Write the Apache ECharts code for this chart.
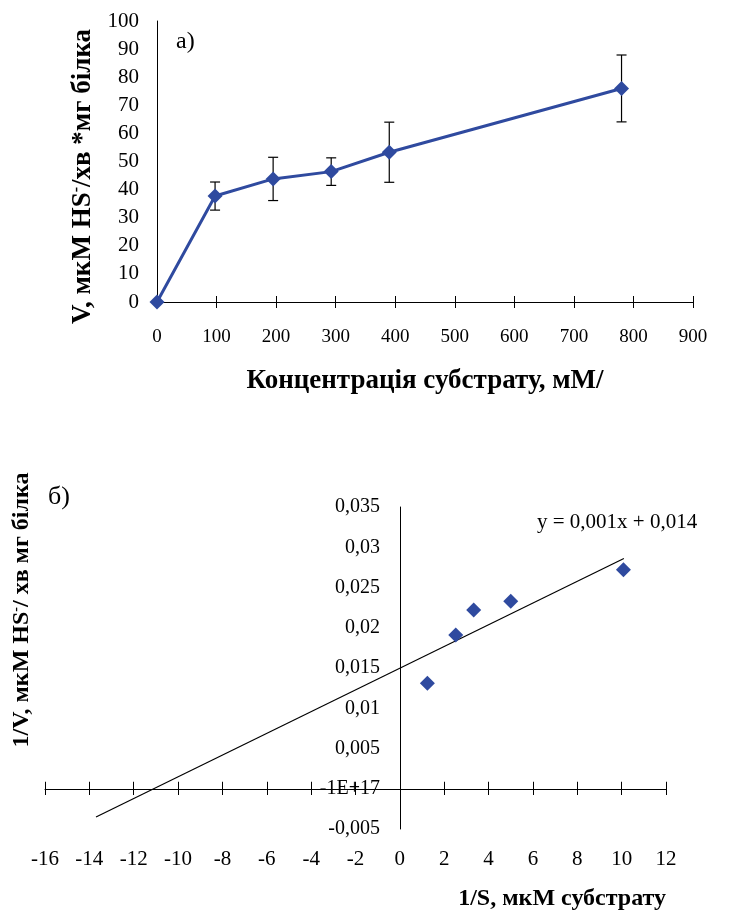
<!DOCTYPE html>
<html>
<head>
<meta charset="utf-8">
<script src="https://cdn.jsdelivr.net/npm/echarts@6/dist/echarts.min.js"></script>
<style>
  html, body { margin: 0; padding: 0; background: #fff; }
  #chart { width: 729px; height: 914px; }
</style>
</head>
<body>
<div id="chart"></div>
<script>
// а) швидкість від концентрації субстрату
const concentration = [0, 97.5, 195, 292.5, 390, 780];
const velocity = [0, 37.7, 43.8, 46.4, 53.3, 76.0];
const velocityErr = [0, 5.0, 7.7, 4.9, 10.7, 11.9];

// б) подвійні обернені координати (Лайнуівер-Берк)
const invS = [1.24, 2.52, 3.33, 5.0, 10.08];
const invV = [0.0131, 0.0191, 0.0222, 0.0233, 0.0272];
const trendX = [-13.7, 10.1];
const trendY = [-0.0035, 0.0286];
const yTickLabelsB = ['-0,005', '-1E+17', '0,005', '0,01', '0,015', '0,02', '0,025', '0,03', '0,035'];

const BLUE = '#2F4A9F';
const SERIF = '"Liberation Serif", "DejaVu Serif", serif';

const chart = echarts.init(document.getElementById('chart'));

const errData = concentration.map((x, i) => [x, velocity[i] - velocityErr[i], velocity[i] + velocityErr[i]]);

const option = {
  animation: false,
  backgroundColor: '#fff',
  grid: [
    { left: 157, right: 36, top: 21, bottom: 612, containLabel: false, outerBoundsMode: 'none' },
    { left: 45, right: 63, top: 507, bottom: 85, containLabel: false, outerBoundsMode: 'none' }
  ],
  xAxis: [
    {
      gridIndex: 0, type: 'value', min: 0, max: 900, interval: 100,
      axisLine: { show: true, lineStyle: { color: '#000', width: 1 } },
      axisTick: { show: true, inside: true, length: 6, lineStyle: { color: '#000' } },
      axisLabel: { show: false },
      splitLine: { show: false }
    },
    {
      gridIndex: 0, type: 'value', min: 0, max: 900, interval: 100, position: 'bottom',
      axisLine: { show: false, onZero: false },
      axisTick: { show: true, length: 6, lineStyle: { color: '#000' } },
      axisLabel: { margin: 26, color: '#000', fontSize: 19, fontFamily: SERIF },
      splitLine: { show: false },
      name: 'Концентрація субстрату, мМ/',
      nameLocation: 'middle', nameGap: 66,
      nameTextStyle: { color: '#000', fontSize: 27, fontWeight: 'bold', fontFamily: SERIF }
    },
    {
      gridIndex: 1, type: 'value', min: -16, max: 12, interval: 2,
      axisLine: { show: true, onZero: true, lineStyle: { color: '#000', width: 1 } },
      axisTick: { show: true, inside: true, length: 7, lineStyle: { color: '#000' } },
      axisLabel: { show: false },
      splitLine: { show: false }
    },
    {
      gridIndex: 1, type: 'value', min: -16, max: 12, interval: 2, position: 'bottom', offset: -41,
      axisLine: { show: false, onZero: false },
      axisTick: { show: true, length: 7, lineStyle: { color: '#000' } },
      axisLabel: { margin: 61, color: '#000', fontSize: 21, fontFamily: SERIF },
      splitLine: { show: false },
      name: '1/S, мкМ субстрату',
      nameLocation: 'end', nameGap: 0,
      nameTextStyle: {
        color: '#000', fontSize: 24, fontWeight: 'bold', fontFamily: SERIF,
        align: 'right', verticalAlign: 'top', padding: [99, 0, 0, 0]
      }
    }
  ],
  yAxis: [
    {
      gridIndex: 0, type: 'value', min: 0, max: 100, interval: 10,
      axisLine: { show: true, lineStyle: { color: '#000', width: 1 } },
      axisTick: { show: false },
      axisLabel: { margin: 18, color: '#000', fontSize: 21, fontFamily: SERIF },
      splitLine: { show: false },
      name: 'V, мкМ HS{sup|-}/хв *мг білка',
      nameLocation: 'middle', nameGap: 54, nameRotate: 90,
      nameTextStyle: {
        color: '#000', fontSize: 27, fontWeight: 'bold', fontFamily: SERIF,
        padding: [0, 30, 0, 0],
        rich: { sup: { fontSize: 16, fontWeight: 'bold', fontFamily: SERIF, color: '#000', verticalAlign: 'top', padding: [0, 0, 12, 0] } }
      }
    },
    {
      gridIndex: 1, type: 'value', min: -0.005, max: 0.035, interval: 0.005,
      offset: -355,
      axisLine: { show: true, onZero: false, lineStyle: { color: '#000', width: 1 } },
      axisTick: { show: false },
      axisLabel: {
        margin: 20, color: '#000', fontSize: 20, fontFamily: SERIF,
        formatter: (v, i) => yTickLabelsB[i]
      },
      splitLine: { show: false },
      name: '1/V, мкМ HS{sup|-}/ хв мг білка',
      nameLocation: 'middle', nameGap: 366, nameRotate: 90,
      nameTextStyle: {
        color: '#000', fontSize: 24, fontWeight: 'bold', fontFamily: SERIF,
        padding: [0, 0, 0, 116],
        rich: { sup: { fontSize: 14, fontWeight: 'bold', fontFamily: SERIF, color: '#000', verticalAlign: 'top', padding: [0, 0, 11, 0] } }
      }
    }
  ],
  series: [
    {
      type: 'custom',
      xAxisIndex: 0, yAxisIndex: 0,
      z: 1,
      data: errData,
      renderItem: (params, api) => {
        const x = api.value(0), lo = api.value(1), hi = api.value(2);
        if (hi === lo) return null;
        const top = api.coord([x, hi]);
        const bot = api.coord([x, lo]);
        const w = 5;
        const st = { stroke: '#000', lineWidth: 1.2 };
        return {
          type: 'group',
          children: [
            { type: 'line', shape: { x1: top[0], y1: top[1], x2: bot[0], y2: bot[1] }, style: st },
            { type: 'line', shape: { x1: top[0] - w, y1: top[1], x2: top[0] + w, y2: top[1] }, style: st },
            { type: 'line', shape: { x1: bot[0] - w, y1: bot[1], x2: bot[0] + w, y2: bot[1] }, style: st }
          ]
        };
      }
    },
    {
      type: 'line',
      xAxisIndex: 0, yAxisIndex: 0,
      z: 3,
      data: concentration.map((x, i) => [x, velocity[i]]),
      symbol: 'diamond', symbolSize: 15,
      itemStyle: { color: BLUE },
      lineStyle: { color: BLUE, width: 3 }
    },
    {
      type: 'line',
      xAxisIndex: 2, yAxisIndex: 1,
      z: 2,
      data: trendX.map((x, i) => [x, trendY[i]]),
      symbol: 'none',
      lineStyle: { color: '#000', width: 1.2 }
    },
    {
      type: 'scatter',
      xAxisIndex: 2, yAxisIndex: 1,
      z: 3,
      data: invS.map((x, i) => [x, invV[i]]),
      symbol: 'diamond', symbolSize: 15,
      itemStyle: { color: BLUE, opacity: 1 }
    }
  ],
  graphic: [
    { type: 'text', left: 176, top: 30, style: { text: 'а)', font: '24px ' + SERIF, fill: '#000' } },
    { type: 'text', left: 48, top: 484, style: { text: 'б)', font: '26px ' + SERIF, fill: '#000' } },
    { type: 'text', left: 537, top: 512, style: { text: 'y = 0,001x + 0,014', font: '21px ' + SERIF, fill: '#000' } }
  ]
};

chart.setOption(option);
</script>
</body>
</html>
